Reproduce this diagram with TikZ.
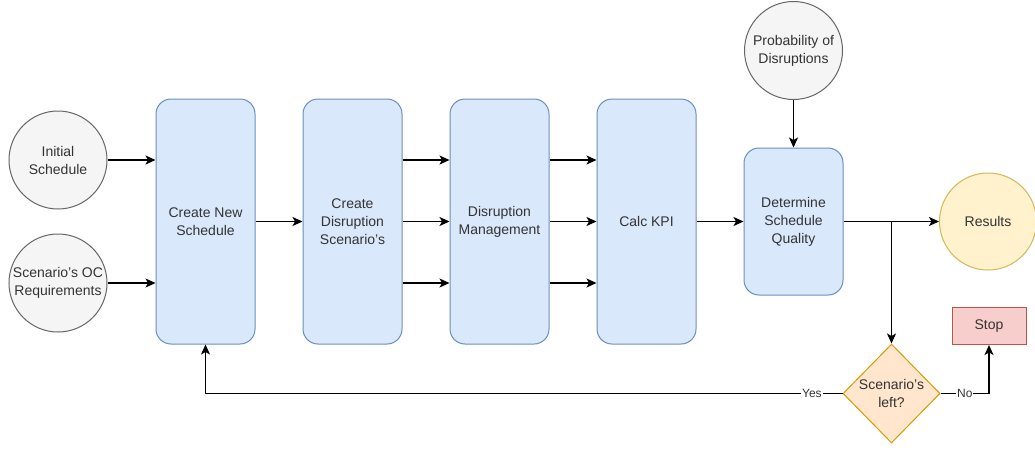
\documentclass[tikz,border=0pt]{standalone}
\usepackage{fontspec}
\setmainfont{Liberation Sans}
\usetikzlibrary{arrows.meta,shapes.geometric}
\definecolor{gfill}{HTML}{F5F5F5}
\definecolor{gline}{HTML}{666666}
\definecolor{txtc}{HTML}{333333}
\definecolor{bfill}{HTML}{DAE8FC}
\definecolor{bline}{HTML}{6C8EBF}
\definecolor{yfill}{HTML}{FFF2CC}
\definecolor{yline}{HTML}{D6B656}
\definecolor{rfill}{HTML}{F8CECC}
\definecolor{rline}{HTML}{B85450}
\definecolor{ofill}{HTML}{FFE6CC}
\definecolor{oline}{HTML}{D79B00}
\tikzset{
  txt/.style={font=\fontsize{14}{18}\selectfont, text=txtc, align=center},
  inputc/.style={circle, draw=gline, fill=gfill, line width=1pt, minimum size=98pt, inner sep=0pt, txt},
  resc/.style={circle, draw=yline, fill=yfill, line width=1pt, minimum size=97pt, inner sep=0pt, txt},
  proc/.style={rectangle, rounded corners=15pt, draw=bline, fill=bfill, line width=1pt, minimum width=99pt, minimum height=245pt, inner sep=0pt, txt},
  stopbox/.style={rectangle, draw=rline, fill=rfill, line width=1pt, minimum width=74pt, minimum height=37pt, inner sep=0pt, txt},
  decision/.style={diamond, aspect=1, draw=oline, fill=ofill, line width=1pt, minimum width=97pt, minimum height=99pt, inner sep=0pt},
  arr/.style={line width=1.3pt, draw=black, -{Stealth[length=10pt,width=9pt,inset=2.5pt]}},
  lbl/.style={font=\fontsize{12}{14}\selectfont, text=txtc, fill=white, inner sep=1pt}
}
\begin{document}
\begin{tikzpicture}[x=1pt,y=-1pt]
\useasboundingbox (0,0) rectangle (1035,450);
\fill[white] (0,0) rectangle (1035,450);

\node[inputc] (init) at (58,160) {Initial\\Schedule};
\node[inputc] (req) at (58,283) {Scenario's OC\\Requirements};
\node[inputc] (prob) at (793.5,50.5) {Probability of\\Disruptions};
\node[resc] (res) at (988,221.5) {Results};

\node[proc] (cns) at (205.5,221.5) {Create New\\Schedule};
\node[proc] (cds) at (352.5,221.5) {Create\\Disruption\\Scenario's};
\node[proc] (dm) at (499.5,221.5) {Disruption\\Management};
\node[proc] (kpi) at (646.5,221.5) {Calc KPI};
\node[proc, minimum height=147pt] (dsq) at (793.5,221.5) {Determine\\Schedule\\Quality};

\node[stopbox] (stop) at (989,326) {Stop};
\node[decision, label={[txt]center:Scenario's\\left?}] (dia) at (891.5,393.5) {};

\draw[arr] (init.east) -- (init.east -| cns.west);
\draw[arr] (req.east) -- (req.east -| cns.west);
\draw[arr] (cns.east) -- (cds.west);
\foreach \r in {init, cns, req}{
  \draw[arr] (cds.east |- \r) -- (dm.west |- \r);
  \draw[arr] (dm.east |- \r) -- (kpi.west |- \r);
}
\draw[arr] (kpi.east) -- (kpi.east -| dsq.west);
\draw[arr] (prob) -- (dsq);
\draw[arr] (dsq.east) -- (res);
\draw[arr] (dsq.east -| dia.north) -- (dia.north);
\draw[arr] (dia.west) -| node[lbl, pos=0.024] {Yes} (cns.south);
\draw[arr] (dia.east) -| node[lbl, pos=0.25] {No} (stop.south);
\end{tikzpicture}
\end{document}
